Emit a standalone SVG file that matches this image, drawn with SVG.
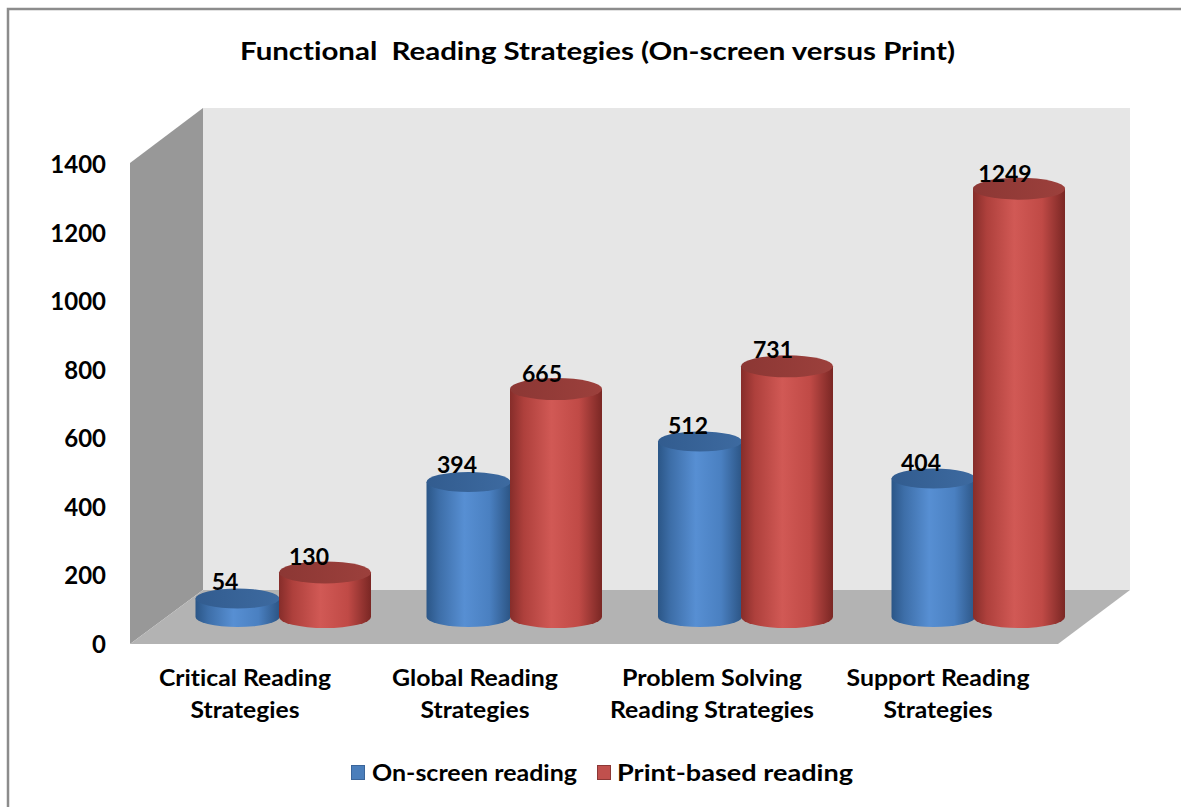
<svg xmlns="http://www.w3.org/2000/svg" width="1181" height="807" viewBox="0 0 1181 807">
  <defs>
    <linearGradient id="blueBody" x1="0" y1="0" x2="1" y2="0">
      <stop offset="0" stop-color="#2b5687"/>
      <stop offset="0.15" stop-color="#3d6ea8"/>
      <stop offset="0.45" stop-color="#578fd3"/>
      <stop offset="0.75" stop-color="#4a80c1"/>
      <stop offset="1" stop-color="#2c5585"/>
    </linearGradient>
    <linearGradient id="redBody" x1="0" y1="0" x2="1" y2="0">
      <stop offset="0" stop-color="#862d2a"/>
      <stop offset="0.15" stop-color="#ae403c"/>
      <stop offset="0.45" stop-color="#d15955"/>
      <stop offset="0.75" stop-color="#c04a46"/>
      <stop offset="1" stop-color="#7a2724"/>
    </linearGradient>
    <linearGradient id="blueTop" x1="0" y1="0" x2="1" y2="0">
      <stop offset="0" stop-color="#325c8f"/>
      <stop offset="1" stop-color="#3d6aa0"/>
    </linearGradient>
    <linearGradient id="redTop" x1="0" y1="0" x2="1" y2="0">
      <stop offset="0" stop-color="#8c3734"/>
      <stop offset="1" stop-color="#9c403c"/>
    </linearGradient>
  </defs>
  <style>
    text { font-family: Lato, "Liberation Sans", sans-serif; font-weight: bold; fill: #000; font-variant-ligatures: none; }
    .title { font-size: 25px; white-space: pre; }
    .val { font-size: 23px; text-anchor: middle; }
    .ytick { font-size: 24px; text-anchor: end; }
    .cat { font-size: 22px; text-anchor: middle; }
    .leg { font-size: 22px; }
    .blue .body { fill: url(#blueBody); }
    .blue .top { fill: url(#blueTop); }
    .red .body { fill: url(#redBody); }
    .red .top { fill: url(#redTop); }
  </style>

  <!-- chart area and frame -->
  <rect x="0" y="0" width="1181" height="807" fill="#ffffff"/>
  <path d="M8,807 L8,9 L1181,9" fill="none" stroke="#8c8c8c" stroke-width="2.5"/>

  <text class="title" x="240" y="60" textLength="715" lengthAdjust="spacingAndGlyphs">Functional  Reading Strategies (On-screen versus Print)</text>

  <!-- 3D walls and floor -->
  <g id="walls">
    <rect x="203" y="108" width="927" height="482" fill="#e6e6e6"/>
    <polygon points="130,163 203,108 203,590 130,644" fill="#989898"/>
    <polygon points="130,644 203,590 1130,590 1058,644" fill="#b3b3b3"/>
  </g>

  <!-- value axis -->
  <g id="y-axis">
    <text class="ytick" x="106" y="173">1400</text>
    <text class="ytick" x="106" y="242">1200</text>
    <text class="ytick" x="106" y="310">1000</text>
    <text class="ytick" x="106" y="379">800</text>
    <text class="ytick" x="106" y="447">600</text>
    <text class="ytick" x="106" y="516">400</text>
    <text class="ytick" x="106" y="584">200</text>
    <text class="ytick" x="106" y="653">0</text>
  </g>

  <!-- Critical Reading Strategies -->
  <g id="critical">
    <g class="blue">
      <path class="body" d="M195.5,598.5 L195.5,617 A42,10 0 0 0 279.5,617 L279.5,598.5 Z"/>
      <ellipse class="top" cx="237.5" cy="598.5" rx="42" ry="10"/>
    </g>
    <g class="red">
      <path class="body" d="M279,572.4 L279,617 A46,11 0 0 0 371,617 L371,572.4 Z"/>
      <ellipse class="top" cx="325" cy="572.4" rx="46" ry="11"/>
    </g>
    <text class="val" x="225" y="590">54</text>
    <text class="val" x="309" y="565">130</text>
    <text class="cat" x="245" y="686" textLength="172" lengthAdjust="spacingAndGlyphs">Critical Reading</text>
    <text class="cat" x="245" y="718" textLength="109" lengthAdjust="spacingAndGlyphs">Strategies</text>
  </g>

  <!-- Global Reading Strategies -->
  <g id="global">
    <g class="blue">
      <path class="body" d="M426.5,481.9 L426.5,617 A42,10 0 0 0 510.5,617 L510.5,481.9 Z"/>
      <ellipse class="top" cx="468.5" cy="481.9" rx="42" ry="10"/>
    </g>
    <g class="red">
      <path class="body" d="M510,389 L510,617 A46,11 0 0 0 602,617 L602,389 Z"/>
      <ellipse class="top" cx="556" cy="389" rx="46" ry="11"/>
    </g>
    <text class="val" x="457" y="473">394</text>
    <text class="val" x="542" y="382">665</text>
    <text class="cat" x="475" y="686" textLength="166" lengthAdjust="spacingAndGlyphs">Global Reading</text>
    <text class="cat" x="475" y="718" textLength="109" lengthAdjust="spacingAndGlyphs">Strategies</text>
  </g>

  <!-- Problem Solving Reading Strategies -->
  <g id="problem-solving">
    <g class="blue">
      <path class="body" d="M658,441.4 L658,617 A42,10 0 0 0 742,617 L742,441.4 Z"/>
      <ellipse class="top" cx="700" cy="441.4" rx="42" ry="10"/>
    </g>
    <g class="red">
      <path class="body" d="M741,366.3 L741,617 A46,11 0 0 0 833,617 L833,366.3 Z"/>
      <ellipse class="top" cx="787" cy="366.3" rx="46" ry="11"/>
    </g>
    <text class="val" x="688" y="434">512</text>
    <text class="val" x="773" y="358">731</text>
    <text class="cat" x="712" y="686" textLength="180" lengthAdjust="spacingAndGlyphs">Problem Solving</text>
    <text class="cat" x="712" y="718" textLength="204" lengthAdjust="spacingAndGlyphs">Reading Strategies</text>
  </g>

  <!-- Support Reading Strategies -->
  <g id="support">
    <g class="blue">
      <path class="body" d="M891.5,478.5 L891.5,617 A42,10 0 0 0 975.5,617 L975.5,478.5 Z"/>
      <ellipse class="top" cx="933.5" cy="478.5" rx="42" ry="10"/>
    </g>
    <g class="red">
      <path class="body" d="M973,188.7 L973,617 A46,11 0 0 0 1065,617 L1065,188.7 Z"/>
      <ellipse class="top" cx="1019" cy="188.7" rx="46" ry="11"/>
    </g>
    <text class="val" x="921" y="471">404</text>
    <text class="val" x="1005" y="182">1249</text>
    <text class="cat" x="938" y="686" textLength="183" lengthAdjust="spacingAndGlyphs">Support Reading</text>
    <text class="cat" x="938" y="718" textLength="109" lengthAdjust="spacingAndGlyphs">Strategies</text>
  </g>

  <!-- legend -->
  <g id="legend">
    <rect x="351.5" y="765.5" width="13" height="14" fill="#4a7ebb" stroke="#3a659a" stroke-width="1"/>
    <text class="leg" x="372" y="781" textLength="205" lengthAdjust="spacingAndGlyphs">On-screen reading</text>
    <rect x="597.5" y="765.5" width="13" height="14" fill="#c0504d" stroke="#8c3836" stroke-width="1"/>
    <text class="leg" x="617" y="781" textLength="236" lengthAdjust="spacingAndGlyphs">Print-based reading</text>
  </g>
</svg>
